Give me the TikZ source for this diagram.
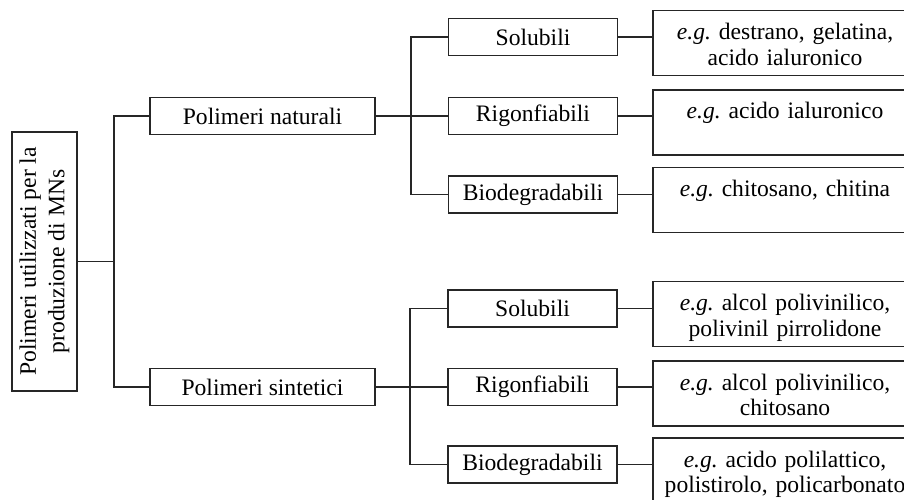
\documentclass[tikz,border=0pt]{standalone}
\usepackage{fontspec}
\setmainfont{Liberation Serif}
\frenchspacing

\begin{document}
\begin{tikzpicture}[x=1pt, y=-1pt, line width=1.2pt,
    every node/.style={font=\fontsize{23.6}{25.6}\selectfont, draw=black!85, inner sep=0pt},
    catbox/.style={minimum height=37pt},
    subbox/.style={catbox, minimum width=169pt},
    exbox/.style={text width=258pt, align=center, minimum width=264pt, text height=29pt, text depth=36pt},
    wire/.style={black!85}]
    \useasboundingbox (0,0) rectangle (904,500);
    \clip (0,0) rectangle (904,500);

    % root, rotated (its south anchor is on the right)
    \node[rotate=90, minimum width=259pt, minimum height=65pt, align=center,
          font=\fontsize{23.6}{28.5}\selectfont] (root) at (44.5,261.5)
        {Polimeri utilizzati per la\\produzione di MNs};

    \node[catbox, minimum width=225pt] (nat) at (262.5,116) {Polimeri naturali};
    \node[catbox, minimum width=225pt] (sin) at (262.5,387) {Polimeri sintetici};

    % second level
    \node[subbox] (sol1) at (533,37) {Solubili};
    \node[subbox] (rig1) at (533,116) {Rigonfiabili};
    \node[subbox] (bio1) at (533,194.5) {Biodegradabili};
    \node[subbox] (sol2) at (532.5,308.5) {Solubili};
    \node[subbox] (rig2) at (532.5,387) {Rigonfiabili};
    \node[subbox] (bio2) at (532.5,464.5) {Biodegradabili};

    % examples
    \node[exbox] (ex1) at (785,43) {\textit{e.g.} destrano, gelatina,\\acido ialuronico};
    \node[exbox] (ex2) at (785,122.5) {\textit{e.g.} acido ialuronico};
    \node[exbox] (ex3) at (785,200) {\textit{e.g.} chitosano, chitina};
    \node[exbox] (ex4) at (785,314) {\textit{e.g.} alcol polivinilico,\\polivinil pirrolidone};
    \node[exbox] (ex5) at (785,393.5) {\textit{e.g.} alcol polivinilico,\\chitosano};
    \node[exbox] (ex6) at (785,470.5) {\textit{e.g.} acido polilattico,\\polistirolo, policarbonato};

    \coordinate (b0) at (114,0);
    \coordinate (b1) at (411,0);
    \coordinate (b2) at (410,0);

    \draw[wire] (root.south) -- (b0 |- root.south);
    \draw[wire] (nat.west) -| (b0 |- root.south);
    \draw[wire] (sin.west) -| (b0 |- root.south);

    \draw[wire] (nat.east) -- (b1 |- nat.east);
    \foreach \c in {sol1,rig1,bio1}
        \draw[wire] (\c.west) -| (b1 |- nat.east);
    \draw[wire] (sin.east) -- (b2 |- sin.east);
    \foreach \c in {sol2,rig2,bio2}
        \draw[wire] (\c.west) -| (b2 |- sin.east);

    \foreach \c/\e in {sol1/ex1,rig1/ex2,bio1/ex3,sol2/ex4,rig2/ex5,bio2/ex6}
        \draw[wire] (\c.east) -- (\c.east -| \e.west);

\end{tikzpicture}
\end{document}
